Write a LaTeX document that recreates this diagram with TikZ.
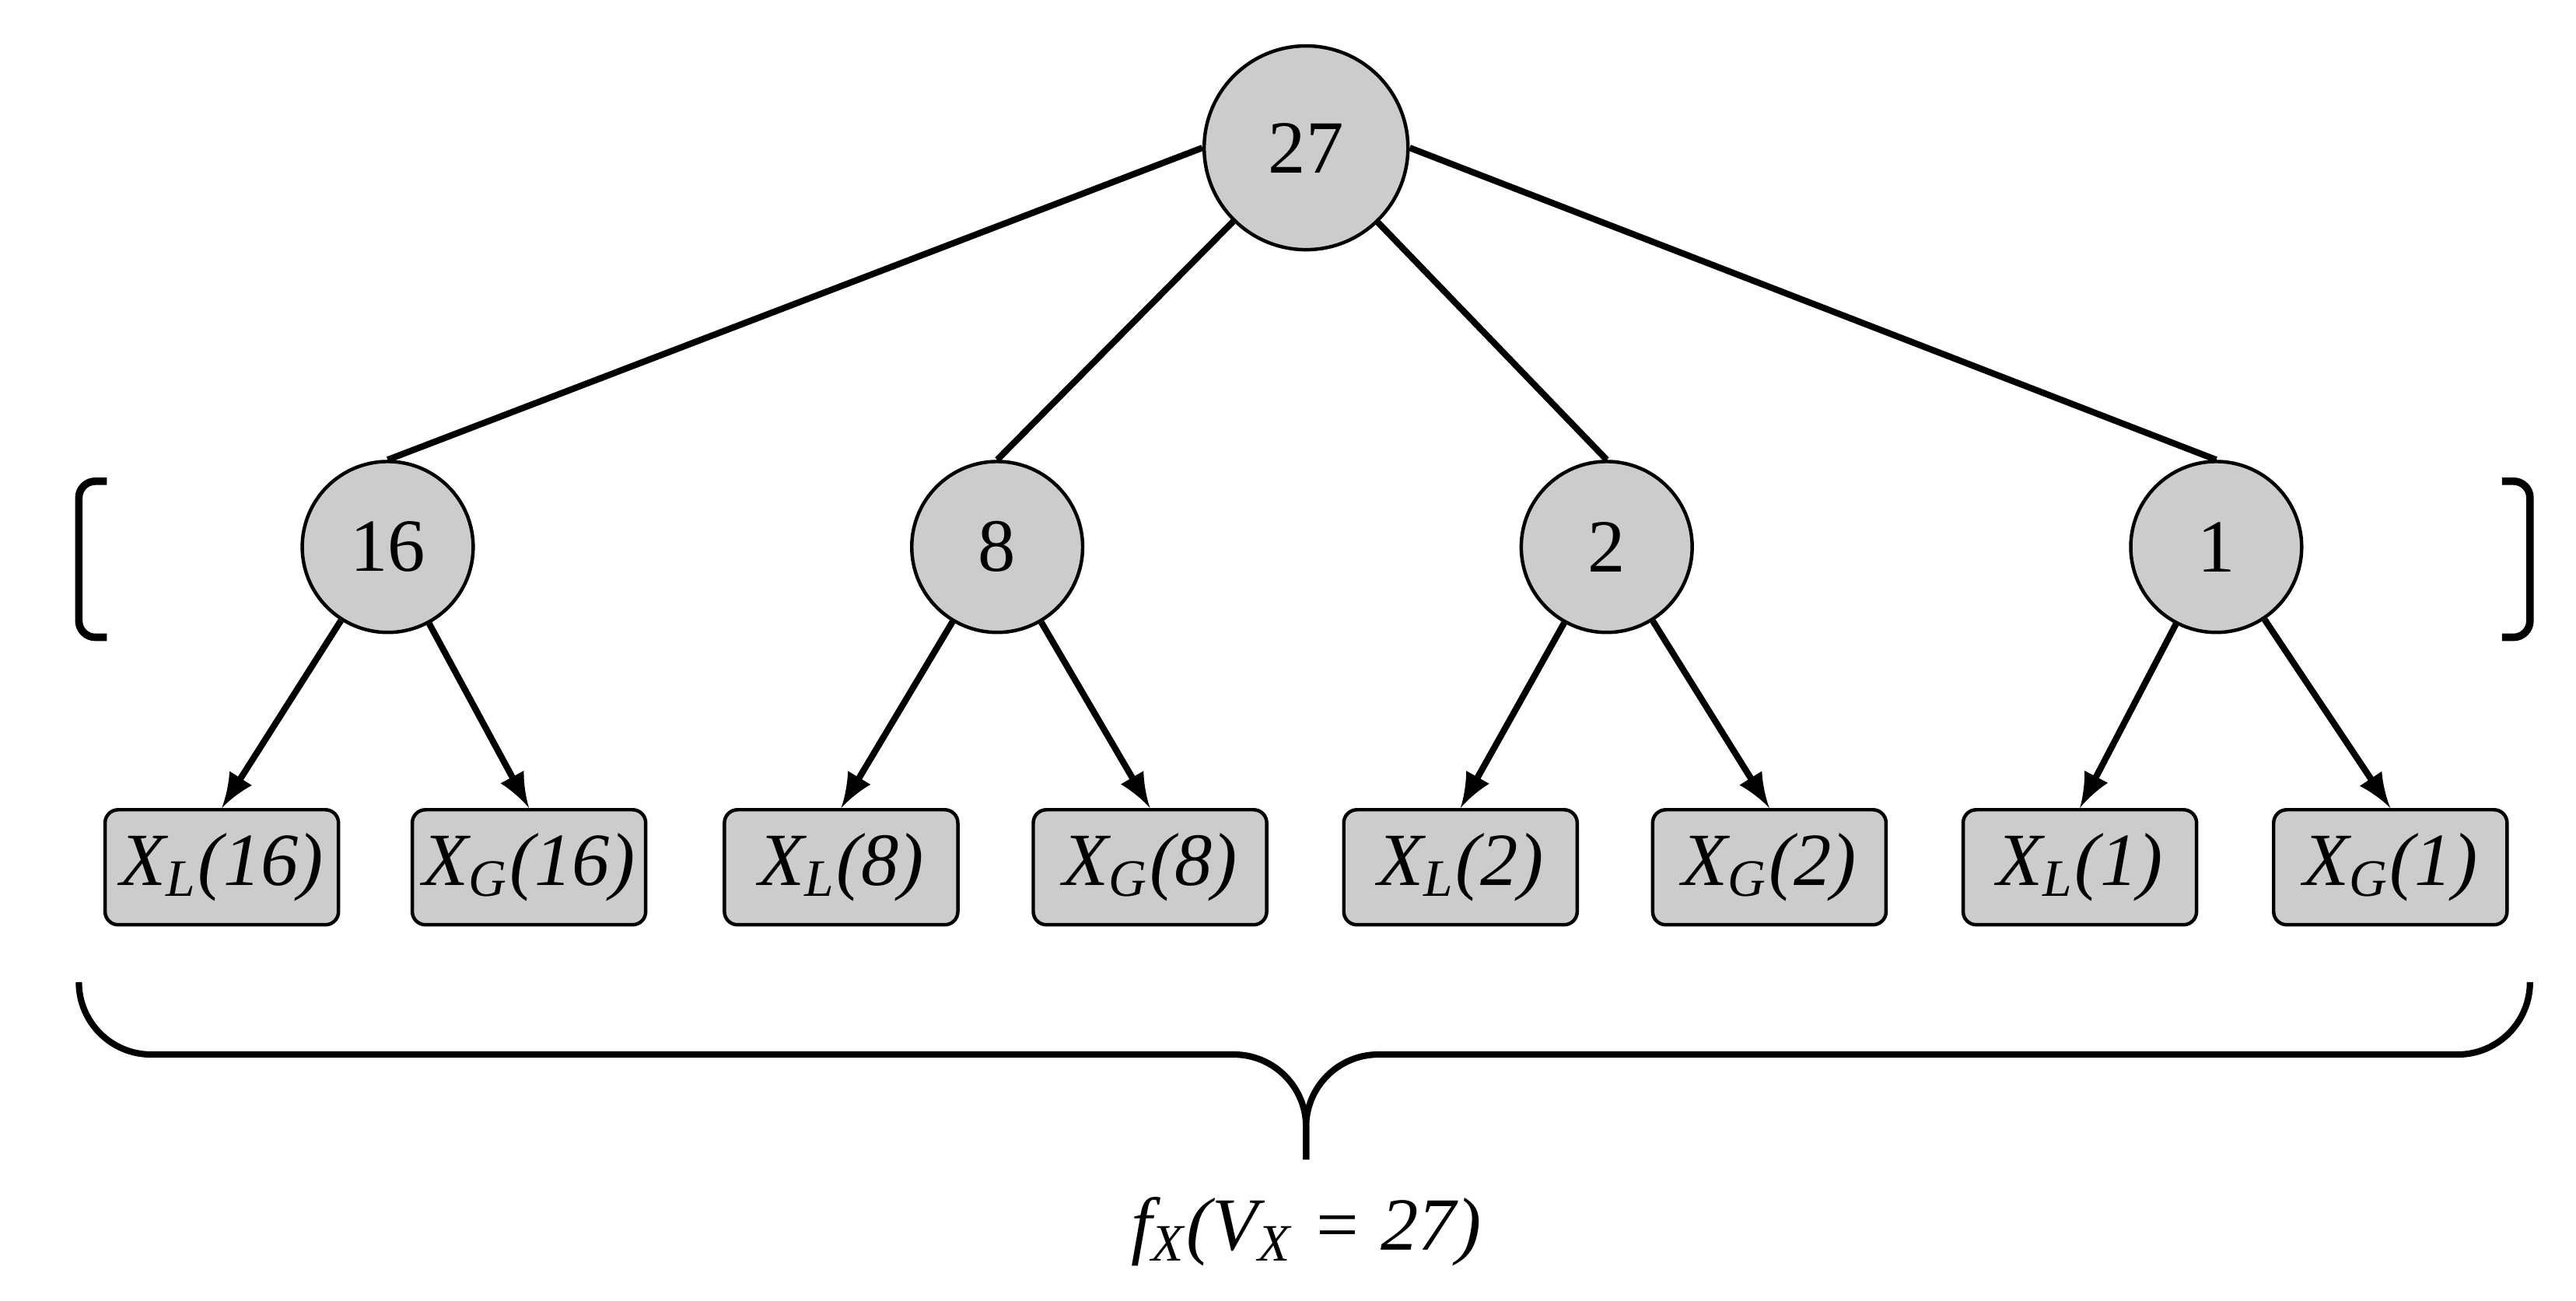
\documentclass[tikz,border=0pt]{standalone}
\usepackage{fontspec}
\setmainfont{Liberation Serif}
\begin{document}
\begin{tikzpicture}[x=0.01cm,y=-0.01cm,
  circ/.style={circle,draw,fill=gray!40,line width=0.6pt,minimum size=1.04cm,inner sep=0pt,font=\fontsize{13}{15}\selectfont},
  root/.style={circ,minimum size=1.24cm},
  box/.style={rectangle,rounded corners=0.08cm,draw,fill=gray!40,line width=0.6pt,minimum width=1.42cm,minimum height=0.7cm,inner sep=0pt,font=\fontsize{13}{15}\selectfont\itshape},
  edge/.style={line width=1.1pt},
  arr/.style={line width=1.1pt,-latex}]
\useasboundingbox (0,0) rectangle (1568,792);
\node[root] (r) at (795,90) {27};
\node[circ] (a) at (236,333) {16};
\node[circ] (b) at (607,333) {8};
\node[circ] (c) at (978,333) {2};
\node[circ] (d) at (1349,333) {1};
\draw[edge] (r.west) -- (a.north);
\draw[edge] (r) -- (b.north);
\draw[edge] (r) -- (c.north);
\draw[edge] (r.east) -- (d.north);
\node[box] (al) at (135,528) {X\textsubscript{L}(16)};
\node[box] (ag) at (322,528) {X\textsubscript{G}(16)};
\node[box] (bl) at (512,528) {X\textsubscript{L}(8)};
\node[box] (bg) at (700,528) {X\textsubscript{G}(8)};
\node[box] (cl) at (889,528) {X\textsubscript{L}(2)};
\node[box] (cg) at (1077,528) {X\textsubscript{G}(2)};
\node[box] (dl) at (1266,528) {X\textsubscript{L}(1)};
\node[box] (dg) at (1455,528) {X\textsubscript{G}(1)};
\foreach \n in {a,b,c,d} {\draw[arr] (\n) -- (\n l.north); \draw[arr] (\n) -- (\n g.north);}
\draw[line width=1.3pt,rounded corners=0.1cm] (65,293) -- (48,293) -- (48,388) -- (65,388);
\draw[line width=1.3pt,rounded corners=0.1cm] (1523,293) -- (1540,293) -- (1540,388) -- (1523,388);
\coordinate (bt) at (795,706);
\draw[line width=1.1pt,rounded corners=0.44cm] (48,598) -- (48,642) -- (795,642) -- (bt);
\draw[line width=1.1pt,rounded corners=0.44cm] (1540,598) -- (1540,642) -- (795,642) -- (bt);
\node[font=\fontsize{13}{15}\selectfont\itshape] (lab) at (795,750) {f\textsubscript{X}(V\textsubscript{X} = 27)};
\end{tikzpicture}
\end{document}
